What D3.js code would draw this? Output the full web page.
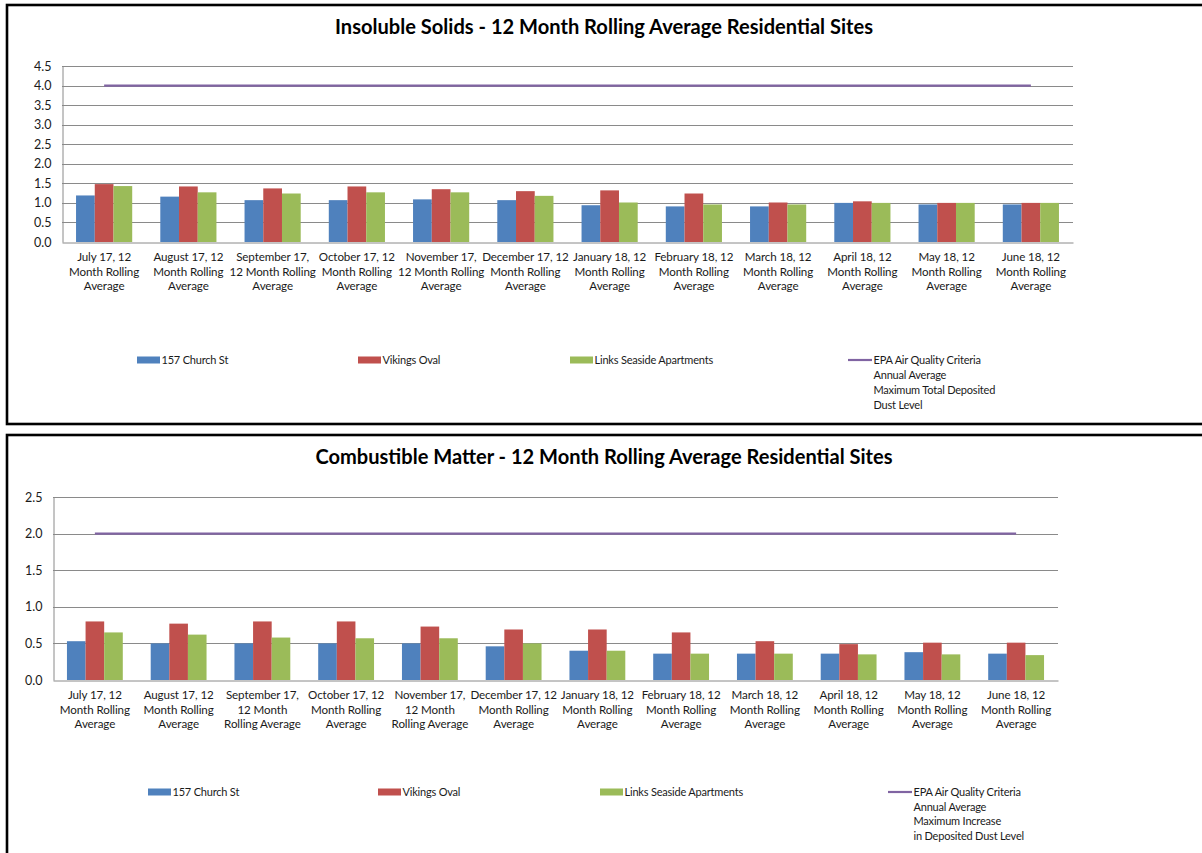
<!DOCTYPE html>
<html>
<head>
<meta charset="utf-8">
<script src="https://cdn.jsdelivr.net/npm/d3@7/dist/d3.min.js"></script>
<style>
  html, body { margin: 0; padding: 0; background: #fff; }
  svg { display: block; }
  .ax { font-family: Lato, "Open Sans", sans-serif; font-size: 12.5px; fill: #1a1a1a; }
  .cx { font-family: Lato, "Open Sans", sans-serif; font-size: 11.6px; fill: #1a1a1a; letter-spacing: -0.1px; }
  .lg { font-family: Lato, sans-serif; font-size: 11px; fill: #1a1a1a; letter-spacing: -0.2px; }
  .ttl { font-family: Lato, "Open Sans", sans-serif; font-weight: bold; font-size: 20px; fill: #000; }
</style>
</head>
<body>
<svg id="c" width="1202" height="853"></svg>
<script>
// ---------- data ----------
const seriesNames = ["157 Church St", "Vikings Oval", "Links Seaside Apartments"];
const seriesColors = ["#4F81BD", "#C0504D", "#9BBB59"];
const epaColor = "#8064A2";

const categories = ["Jul 17", "Aug 17", "Sep 17", "Oct 17", "Nov 17", "Dec 17",
                    "Jan 18", "Feb 18", "Mar 18", "Apr 18", "May 18", "Jun 18"];

const labelsTop = [
  ["July 17, 12", "Month Rolling", "Average"],
  ["August 17, 12", "Month Rolling", "Average"],
  ["September 17,", "12 Month Rolling", "Average"],
  ["October 17, 12", "Month Rolling", "Average"],
  ["November 17,", "12 Month Rolling", "Average"],
  ["December 17, 12", "Month Rolling", "Average"],
  ["January 18, 12", "Month Rolling", "Average"],
  ["February 18, 12", "Month Rolling", "Average"],
  ["March 18, 12", "Month Rolling", "Average"],
  ["April 18, 12", "Month Rolling", "Average"],
  ["May 18, 12", "Month Rolling", "Average"],
  ["June 18, 12", "Month Rolling", "Average"]
];
const labelsBottom = [
  ["July 17, 12", "Month Rolling", "Average"],
  ["August 17, 12", "Month Rolling", "Average"],
  ["September 17,", "12 Month", "Rolling Average"],
  ["October 17, 12", "Month Rolling", "Average"],
  ["November 17,", "12 Month", "Rolling Average"],
  ["December 17, 12", "Month Rolling", "Average"],
  ["January 18, 12", "Month Rolling", "Average"],
  ["February 18, 12", "Month Rolling", "Average"],
  ["March 18, 12", "Month Rolling", "Average"],
  ["April 18, 12", "Month Rolling", "Average"],
  ["May 18, 12", "Month Rolling", "Average"],
  ["June 18, 12", "Month Rolling", "Average"]
];

// Insoluble solids
const insolubleChurch  = [1.19, 1.16, 1.07, 1.07, 1.09, 1.07, 0.94, 0.91, 0.91, 1.00, 0.96, 0.96];
const insolubleVikings = [1.48, 1.42, 1.37, 1.42, 1.35, 1.30, 1.32, 1.24, 1.01, 1.04, 1.00, 1.00];
const insolubleLinks   = [1.43, 1.27, 1.24, 1.27, 1.27, 1.18, 1.01, 0.96, 0.96, 1.00, 1.00, 1.00];
const insolubleEPA     = [4.0, 4.0, 4.0, 4.0, 4.0, 4.0, 4.0, 4.0, 4.0, 4.0, 4.0, 4.0];
const yTicksTop = [0, 0.5, 1.0, 1.5, 2.0, 2.5, 3.0, 3.5, 4.0, 4.5];

// Combustible matter
const combustibleChurch  = [0.53, 0.50, 0.50, 0.50, 0.50, 0.46, 0.40, 0.36, 0.36, 0.36, 0.38, 0.36];
const combustibleVikings = [0.80, 0.77, 0.80, 0.80, 0.73, 0.69, 0.69, 0.65, 0.53, 0.49, 0.51, 0.51];
const combustibleLinks   = [0.65, 0.62, 0.58, 0.57, 0.57, 0.50, 0.40, 0.36, 0.36, 0.35, 0.35, 0.34];
const combustibleEPA     = [2.0, 2.0, 2.0, 2.0, 2.0, 2.0, 2.0, 2.0, 2.0, 2.0, 2.0, 2.0];
const yTicksBottom = [0, 0.5, 1.0, 1.5, 2.0, 2.5];

const titleTop = "Insoluble Solids - 12 Month Rolling Average Residential Sites";
const titleBottom = "Combustible Matter - 12 Month Rolling Average Residential Sites";
const epaLabelTop = ["EPA Air Quality Criteria", "Annual Average", "Maximum Total Deposited", "Dust Level"];
const epaLabelBottom = ["EPA Air Quality Criteria", "Annual Average", "Maximum Increase", "in Deposited Dust Level"];

// ---------- drawing ----------
const svg = d3.select("#c");

function drawPanel(cfg) {
  const g = svg.append("g");
  g.append("rect")
    .attr("x", cfg.frame[0]).attr("y", cfg.frame[1])
    .attr("width", cfg.frame[2]).attr("height", cfg.frame[3])
    .attr("fill", "#fff").attr("stroke", "#000").attr("stroke-width", 2.6);

  g.append("text").attr("class", "ttl")
    .attr("x", cfg.titleX).attr("y", cfg.titleY)
    .attr("text-anchor", "middle").text(cfg.title)
    .attr("textLength", cfg.titleW).attr("lengthAdjust", "spacingAndGlyphs");

  const L = cfg.plot.left, R = cfg.plot.right, T = cfg.plot.top, B = cfg.plot.bottom;
  const yMax = cfg.yTicks[cfg.yTicks.length - 1];
  const y = d3.scaleLinear().domain([0, yMax]).range([B, T]);
  const x0 = d3.scaleBand().domain(categories).range([L, R]).paddingInner(0).paddingOuter(0);
  const x1 = d3.scaleBand().domain(seriesNames).range([0, x0.bandwidth()]).paddingInner(0).paddingOuter(0.75);

  g.append("g").selectAll("line").data(cfg.yTicks.filter(v => v > 0)).join("line")
    .attr("x1", L).attr("x2", R)
    .attr("y1", d => Math.round(y(d)) + 0.5).attr("y2", d => Math.round(y(d)) + 0.5)
    .attr("stroke", "#8a8a8a").attr("stroke-width", 1);

  const yAxis = d3.axisLeft(y).tickValues(cfg.yTicks).tickFormat(d3.format(".1f")).tickSize(0).tickPadding(11);
  const ya = g.append("g").attr("transform", `translate(${L + 0.5},0)`).call(yAxis);
  ya.select(".domain").attr("stroke", "#8a8a8a");
  ya.selectAll("text").attr("class", "ax").attr("font-family", null).attr("font-size", null).attr("fill", null);

  const seriesData = cfg.series;
  const grp = g.append("g").selectAll("g").data(categories).join("g")
    .attr("transform", d => `translate(${x0(d)},0)`);
  grp.selectAll("rect").data((c, i) => seriesNames.map((s, k) => ({ s, k, v: seriesData[k][i] })))
    .join("rect")
    .attr("x", d => x1(d.s)).attr("width", x1.bandwidth())
    .attr("y", d => y(d.v)).attr("height", d => B - y(d.v))
    .attr("fill", d => seriesColors[d.k]);

  const xAxis = d3.axisBottom(x0).tickSize(0).tickFormat("");
  const xa = g.append("g").attr("transform", `translate(0,${Math.round(B) + 0.5})`).call(xAxis);
  xa.select(".domain").attr("stroke", "#8a8a8a");
  xa.selectAll(".tick").each(function (d, i) {
    const tx = d3.select(this).append("text").attr("class", "cx").attr("text-anchor", "middle");
    cfg.labels[i].forEach((ln, j) => {
      tx.append("tspan").attr("x", 0).attr("y", 18.5 + j * 14.5).text(ln);
    });
  });

  const line = d3.line().x((d, i) => x0(categories[i]) + x0.bandwidth() / 2).y(d => y(d));
  g.append("path").datum(cfg.epa).attr("d", line)
    .attr("fill", "none").attr("stroke", epaColor).attr("stroke-width", 2.2);

  const lg = g.append("g");
  seriesNames.forEach((s, k) => {
    lg.append("rect").attr("x", cfg.legend.x[k]).attr("y", cfg.legend.y - 3.5)
      .attr("width", 23).attr("height", 7).attr("fill", seriesColors[k]);
    lg.append("text").attr("class", "lg").attr("x", cfg.legend.x[k] + 24.5).attr("y", cfg.legend.y + 4).text(s);
  });
  const ex = cfg.legend.x[3];
  lg.append("line").attr("x1", ex).attr("x2", ex + 24)
    .attr("y1", cfg.legend.y).attr("y2", cfg.legend.y)
    .attr("stroke", epaColor).attr("stroke-width", 2.2);
  cfg.epaLabel.forEach((ln, j) => {
    lg.append("text").attr("class", "lg").attr("x", ex + 25.5)
      .attr("y", cfg.legend.y + 4 + j * cfg.legend.lh).text(ln);
  });
}

drawPanel({
  frame: [7, 5, 1215, 419],
  title: titleTop, titleX: 604, titleY: 34, titleW: 538,
  plot: { left: 62, right: 1073, top: 66, bottom: 242 },
  yTicks: yTicksTop,
  series: [insolubleChurch, insolubleVikings, insolubleLinks],
  epa: insolubleEPA,
  labels: labelsTop,
  epaLabel: epaLabelTop,
  legend: { x: [137, 358, 570, 848], y: 360, lh: 15 }
});

drawPanel({
  frame: [7, 435, 1215, 430],
  title: titleBottom, titleX: 604, titleY: 464, titleW: 577,
  plot: { left: 53, right: 1058, top: 497, bottom: 680 },
  yTicks: yTicksBottom,
  series: [combustibleChurch, combustibleVikings, combustibleLinks],
  epa: combustibleEPA,
  labels: labelsBottom,
  epaLabel: epaLabelBottom,
  legend: { x: [148, 378, 600, 888], y: 792, lh: 14.7 }
});
</script>
</body>
</html>
